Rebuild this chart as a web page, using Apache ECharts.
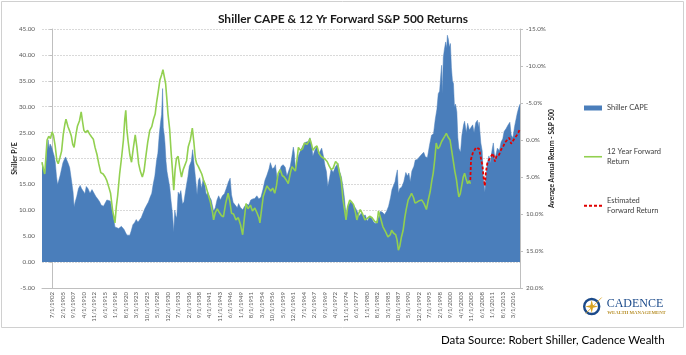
<!DOCTYPE html>
<html><head><meta charset="utf-8">
<script src="https://cdn.jsdelivr.net/npm/echarts/dist/echarts.min.js"></script>
<style>html,body{margin:0;padding:0;background:#fff}#c{width:686px;height:355px}</style>
</head><body><div id="c"></div>
<script>
const xTickLabels = ['7/1/1902','2/1/1905','9/1/1907','4/1/1910','11/1/1912','6/1/1915','1/1/1918','8/1/1920','3/1/1923','10/1/1925','5/1/1928','12/1/1930','7/1/1933','2/1/1936','9/1/1938','4/1/1941','11/1/1943','6/1/1946','1/1/1949','8/1/1951','3/1/1954','10/1/1956','5/1/1959','12/1/1961','7/1/1964','2/1/1967','9/1/1969','4/1/1972','11/1/1974','6/1/1977','1/1/1980','8/1/1982','3/1/1985','10/1/1987','5/1/1990','12/1/1992','7/1/1995','2/1/1998','9/1/2000','4/1/2003','11/1/2005','6/1/2008','1/1/2011','8/1/2013','3/1/2016'];

const capeData = [
['1899-12',19.0],['1900-03',18.4],['1900-06',17.8],['1900-09',17.0],['1900-12',19.5],['1901-03',21.8],['1901-06',23.6],['1901-09',22.0],['1901-12',22.8],['1902-04',22.3],['1902-08',22.6],['1902-12',20.5],
['1903-03',19.4],['1903-07',16.5],['1903-10',15.0],['1904-01',15.6],['1904-06',16.8],['1904-10',18.0],['1905-02',19.2],['1905-06',19.8],['1905-10',20.3],['1906-02',19.6],['1906-06',19.0],['1906-10',18.2],
['1907-03',15.9],['1907-08',13.5],['1907-11',10.7],['1908-03',11.8],['1908-07',12.7],['1908-12',14.2],['1909-05',14.8],['1909-09',14.2],['1910-01',14.0],['1910-07',13.2],['1910-11',14.6],['1911-04',14.2],
['1911-10',13.3],['1912-04',14.0],['1912-09',14.3],['1913-03',12.7],['1913-09',12.2],['1914-03',11.6],['1914-07',11.0],['1915-02',10.8],['1915-07',11.1],['1915-12',12.0],['1916-04',12.2],['1916-10',11.8],
['1917-03',10.1],['1917-08',8.5],['1917-12',6.8],['1918-05',7.0],['1918-11',6.5],['1919-03',6.2],['1919-07',6.9],['1919-11',6.6],['1920-03',6.3],['1920-08',5.6],['1920-12',5.2],['1921-05',5.4],
['1921-08',5.2],['1921-12',6.0],['1922-05',7.2],['1922-10',7.6],['1923-03',8.2],['1923-08',7.7],['1923-12',8.0],['1924-06',8.6],['1924-12',9.6],['1925-05',10.4],['1925-10',11.0],['1926-03',11.6],
['1926-08',12.5],['1927-01',13.3],['1927-05',15.0],['1927-10',16.6],['1928-03',19.5],['1928-07',21.0],['1928-11',24.5],['1929-03',27.0],['1929-06',28.5],['1929-09',33.5],['1929-11',26.0],['1930-02',24.5],
['1930-04',23.0],['1930-07',19.5],['1930-10',17.5],['1931-02',16.0],['1931-06',14.5],['1931-10',11.8],['1932-02',9.5],['1932-06',5.8],['1932-09',10.0],['1932-12',9.0],['1933-03',8.5],['1933-07',13.5],
['1933-11',13.0],['1934-03',13.8],['1934-08',11.2],['1934-12',11.6],['1935-04',11.8],['1935-08',15.0],['1935-12',16.5],['1936-04',18.5],['1936-10',19.5],['1937-02',21.7],['1937-06',19.0],['1937-10',16.5],
['1938-03',13.0],['1938-07',15.8],['1938-11',16.3],['1939-04',14.2],['1939-09',16.0],['1940-01',15.4],['1940-06',13.0],['1940-11',13.5],['1941-04',12.6],['1941-09',12.0],['1942-04',9.8],['1942-09',10.5],
['1943-02',12.0],['1943-07',12.8],['1943-12',12.0],['1944-06',12.8],['1944-12',13.2],['1945-06',14.3],['1945-12',15.5],['1946-05',16.2],['1946-09',13.0],['1947-02',11.5],['1947-08',11.0],['1948-02',10.5],
['1948-06',11.3],['1948-11',10.6],['1949-06',10.1],['1949-12',10.8],['1950-06',11.2],['1950-12',11.0],['1951-06',12.0],['1951-12',12.2],['1952-06',12.3],['1952-12',12.8],['1953-06',12.2],['1953-12',12.5],
['1954-06',14.0],['1954-12',15.8],['1955-06',16.8],['1955-12',18.0],['1956-04',19.2],['1956-10',18.0],['1957-04',18.3],['1957-07',18.8],['1957-12',16.0],['1958-06',17.2],['1958-12',18.5],['1959-06',18.8],
['1959-12',18.3],['1960-05',16.6],['1960-10',16.8],['1961-03',18.5],['1961-08',20.5],['1961-12',22.2],['1962-03',21.0],['1962-06',18.0],['1962-10',19.0],['1963-03',20.5],['1963-09',21.5],['1964-03',22.3],
['1964-09',23.0],['1965-03',23.2],['1965-09',23.3],['1966-01',24.0],['1966-06',22.5],['1966-10',20.5],['1967-03',21.5],['1967-09',22.3],['1968-03',20.8],['1968-08',21.5],['1968-12',22.0],['1969-05',20.5],
['1969-10',18.5],['1970-02',17.5],['1970-06',14.6],['1970-11',16.2],['1971-04',18.0],['1971-10',17.3],['1972-04',18.3],['1972-12',19.1],['1973-05',17.5],['1973-10',16.5],['1974-03',14.5],['1974-07',12.5],
['1974-12',9.0],['1975-04',10.5],['1975-08',11.0],['1976-01',11.6],['1976-07',11.4],['1976-12',11.2],['1977-06',10.2],['1977-12',9.4],['1978-04',8.9],['1978-09',9.5],['1979-03',8.9],['1979-09',9.1],
['1980-03',7.9],['1980-09',8.7],['1981-03',8.6],['1981-09',7.8],['1982-03',7.4],['1982-07',7.3],['1982-12',8.6],['1983-06',9.8],['1983-12',9.6],['1984-06',9.2],['1984-12',9.8],['1985-06',10.8],
['1985-12',12.5],['1986-04',14.0],['1986-09',14.3],['1987-01',15.5],['1987-04',16.6],['1987-08',17.8],['1987-11',13.3],['1988-03',14.2],['1988-09',14.5],['1989-03',15.5],['1989-09',17.3],['1990-02',16.6],
['1990-06',17.2],['1990-10',15.5],['1991-03',17.6],['1991-09',18.5],['1992-01',19.7],['1992-07',19.8],['1993-01',20.3],['1993-08',20.8],['1994-02',21.2],['1994-07',20.3],['1995-01',20.2],['1995-07',22.5],
['1996-01',24.5],['1996-07',24.8],['1996-12',27.5],['1997-05',29.5],['1997-09',32.5],['1998-01',33.0],['1998-05',36.5],['1998-07',38.0],['1998-09',32.5],['1998-12',39.5],['1999-03',41.0],['1999-07',42.5],
['1999-10',41.3],['1999-12',43.8],['2000-03',43.0],['2000-06',41.5],['2000-09',42.2],['2000-12',37.5],['2001-03',35.0],['2001-06',34.5],['2001-09',30.0],['2001-12',30.5],['2002-04',29.0],['2002-07',24.0],
['2002-10',22.0],['2003-03',21.2],['2003-07',24.5],['2003-12',26.5],['2004-03',27.2],['2004-08',25.0],['2004-12',26.8],['2005-05',25.5],['2005-10',25.8],['2006-03',26.5],['2006-07',25.0],['2006-12',26.9],
['2007-05',27.4],['2007-08',26.0],['2007-10',27.0],['2008-03',23.0],['2008-07',21.5],['2008-10',16.5],['2009-03',13.5],['2009-06',16.2],['2009-10',19.0],['2010-03',20.5],['2010-07',19.2],['2010-12',21.5],
['2011-04',23.0],['2011-09',19.5],['2011-12',20.8],['2012-04',22.0],['2012-10',21.5],['2013-03',23.2],['2013-08',23.8],['2013-12',25.2],['2014-06',25.8],['2014-12',26.5],['2015-05',27.0],['2015-09',24.5],
['2016-02',24.0],['2016-07',26.2],['2016-11',26.5],['2017-03',28.8],['2017-08',30.0],['2017-11',30.5]
];

const fwdReturnData = [
['1899-12',3.0],['1900-04',3.9],['1900-08',4.6],['1900-12',2.0],['1901-03',0.0],['1901-08',-0.5],['1902-01',-0.2],['1902-06',-1.1],['1902-10',-0.6],['1903-03',0.8],['1903-08',2.8],['1903-12',3.2],
['1904-05',2.4],['1904-10',1.5],['1905-03',-0.8],['1905-08',-2.2],['1905-11',-2.8],['1906-05',-1.8],['1906-10',-1.2],['1907-03',-0.5],['1907-07',0.6],['1907-11',1.0],['1908-04',-0.6],['1908-09',-1.9],
['1909-03',-2.6],['1909-08',-3.8],['1909-12',-2.5],['1910-04',-1.3],['1910-09',-1.0],['1911-03',-1.3],['1911-09',-0.8],['1912-03',-0.4],['1912-08',-0.1],['1913-01',1.0],['1913-07',2.0],['1913-12',3.2],
['1914-06',4.4],['1915-01',4.6],['1915-07',5.0],['1915-12',5.5],['1916-06',6.4],['1916-11',7.2],['1917-05',9.5],['1917-09',10.5],['1917-12',11.2],['1918-04',9.0],['1918-08',7.5],['1919-02',4.5],
['1919-08',2.2],['1920-01',0.0],['1920-05',-2.8],['1920-08',-4.0],['1920-11',-1.5],['1921-03',0.2],['1921-08',2.0],['1922-01',3.0],['1922-06',1.2],['1922-12',-0.7],['1923-05',1.0],['1923-10',3.2],
['1924-03',4.2],['1924-09',5.0],['1925-02',4.2],['1925-08',2.0],['1926-01',0.3],['1926-07',-1.3],['1927-01',-1.8],['1927-06',-2.8],['1927-11',-3.5],['1928-03',-5.0],['1928-08',-6.5],['1929-01',-8.1],
['1929-06',-8.8],['1929-10',-9.5],['1930-03',-9.7],['1930-06',-7.6],['1930-09',-5.9],['1931-01',-3.5],['1931-06',-1.4],['1931-10',1.5],['1932-02',4.0],['1932-06',6.8],['1932-10',4.0],['1933-02',2.5],
['1933-07',2.2],['1933-12',3.8],['1934-05',5.0],['1934-10',4.0],['1935-03',4.1],['1935-08',2.8],['1936-01',0.9],['1936-07',0.0],['1937-01',-1.6],['1937-06',0.5],['1937-10',2.5],['1938-02',3.2],
['1938-07',3.6],['1938-12',4.1],['1939-05',4.6],['1939-10',5.4],['1940-05',6.2],['1940-11',7.2],['1941-06',8.3],['1942-01',9.8],['1942-04',10.8],['1942-09',9.8],['1943-03',9.3],['1943-09',9.8],
['1944-03',10.2],['1944-09',10.4],['1945-04',8.5],['1945-11',7.2],['1946-04',8.3],['1946-09',9.9],['1947-03',10.0],['1947-10',10.8],['1948-05',10.5],['1948-12',11.5],['1949-06',12.8],['1949-10',11.0],
['1950-04',8.6],['1950-10',9.3],['1951-05',8.8],['1951-11',9.6],['1952-06',9.2],['1952-12',9.8],['1953-06',10.5],['1953-09',11.2],['1954-02',9.4],['1954-07',7.6],['1955-01',6.8],['1955-06',6.2],
['1955-12',6.6],['1956-05',6.9],['1956-11',6.5],['1957-05',7.2],['1957-10',6.2],['1958-03',4.5],['1958-09',4.0],['1959-03',4.8],['1959-09',5.0],['1960-03',5.4],['1960-09',5.9],['1961-03',4.5],
['1961-08',3.6],['1962-01',3.4],['1962-06',4.2],['1962-11',2.6],['1963-03',1.0],['1963-09',1.4],['1964-03',1.2],['1964-09',0.4],['1965-04',0.6],['1965-10',0.2],['1966-01',-0.2],['1966-06',0.6],
['1966-10',1.4],['1967-04',1.0],['1967-10',0.8],['1968-04',1.8],['1968-10',2.2],['1969-04',2.4],['1969-10',2.6],['1970-04',2.9],['1970-10',3.5],['1971-04',4.0],['1971-10',3.8],['1972-05',2.9],
['1972-11',3.2],['1973-05',4.5],['1973-10',5.5],['1974-03',8.1],['1974-08',9.5],['1974-12',10.8],['1975-05',9.0],['1975-11',8.1],['1976-05',8.4],['1976-10',8.7],['1977-04',9.8],['1977-08',10.8],
['1978-01',10.0],['1978-06',9.4],['1979-01',10.0],['1979-08',10.8],['1980-03',10.6],['1980-10',10.3],['1981-05',10.5],['1982-01',11.0],['1982-08',11.2],['1982-12',9.6],['1983-06',10.5],['1984-01',11.7],
['1984-08',12.3],['1985-04',13.1],['1985-11',12.8],['1986-03',12.2],['1986-09',12.6],['1987-03',12.8],['1987-07',13.5],['1987-11',14.9],['1988-03',14.4],['1988-08',13.1],['1989-01',12.2],['1989-06',10.5],
['1989-10',9.4],['1990-04',8.1],['1990-10',7.6],['1991-02',7.2],['1991-08',7.8],['1991-12',8.5],['1992-06',8.4],['1993-01',8.2],['1993-08',8.1],['1994-03',8.6],['1994-10',9.4],['1995-04',8.0],
['1995-09',7.0],['1996-02',5.5],['1996-06',4.5],['1996-11',2.5],['1997-03',0.4],['1997-08',1.2],['1998-01',0.9],['1998-07',0.2],['1998-11',0.0],['1999-04',-0.5],['1999-09',-0.9],['2000-02',-0.4],
['2000-08',0.0],['2001-01',1.5],['2001-05',2.7],['2001-10',4.2],['2002-03',5.4],['2002-07',6.8],['2002-10',7.7],['2003-02',7.3],['2003-06',6.3],['2003-11',5.0],['2004-03',4.5],['2004-07',5.2],
['2004-12',5.9],['2005-05',5.5],['2005-08',5.9]
];

const estReturnData = [
['2005-08',5.4],['2005-10',2.6],['2006-03',1.8],['2006-08',1.4],['2007-01',1.0],['2007-06',0.9],['2007-10',1.2],['2008-03',2.4],['2008-08',3.5],['2008-11',5.0],['2009-03',6.2],['2009-06',4.4],
['2009-10',3.2],['2010-04',2.6],['2010-09',2.8],['2011-03',1.8],['2011-09',2.9],['2012-02',2.1],['2012-09',2.0],['2013-03',1.3],['2013-09',0.9],['2014-03',0.3],['2014-09',0.0],['2015-03',-0.3],
['2015-09',0.5],['2016-02',0.6],['2016-08',-0.3],['2017-01',-0.6],['2017-06',-1.0],['2017-11',-1.5]
];

// month index relative to 7/1902 (first labelled category)
function monthIndex(s) { const p = s.split('-').map(Number); return (p[0] - 1902) * 12 + (p[1] - 7); }
const toXY = arr => arr.map(d => [monthIndex(d[0]), d[1]]);

const FONT = 'Lato';
const BLUE = '#4a7ebb', GREEN = '#92d050', RED = '#e00000';
const xLblStyle = { fontFamily: FONT, fontSize: 6, color: '#595959' };
const yLblStyle = { fontFamily: FONT, fontSize: 6.3, color: '#595959' };
const legendText = { fontFamily: FONT, fontSize: 7.5, color: '#404040' };
const legendNames = { '12 Year Forward Return': '12 Year Forward\nReturn', 'Estimated Forward Return': 'Estimated\nForward Return' };
const twoLine = Object.assign({ lineHeight: 10.5, padding: [10.5, 0, 0, 0] }, legendText);

const chart = echarts.init(document.getElementById('c'), null, { renderer: 'canvas' });
chart.setOption({
  animation: false,
  backgroundColor: '#ffffff',
  title: { text: 'Shiller CAPE & 12 Yr Forward S&P 500 Returns', left: 'center', top: 8,
    textStyle: { fontFamily: FONT, fontSize: 12, fontWeight: 'bold', color: '#1a1a1a' } },
  grid: { left: 42, right: 166, top: 29, bottom: 67, containLabel: false, outerBoundsMode: 'none' },
  legend: [
    { data: ['Shiller CAPE'], left: 584, top: 104, padding: 0, icon: 'rect', itemWidth: 18, itemHeight: 5, textStyle: legendText },
    { data: ['12 Year Forward Return'], left: 584, top: 141, padding: 0, icon: 'rect', itemWidth: 18, itemHeight: 1.6,
      formatter: n => legendNames[n], textStyle: twoLine },
    { data: ['Estimated Forward Return'], left: 584, top: 190, padding: 0, itemWidth: 18, itemHeight: 2,
      icon: 'path://M0,0h3v2h-3z M5,0h3v2h-3z M10,0h3v2h-3z M15,0h3v2h-3z',
      formatter: n => legendNames[n], textStyle: twoLine }
  ],
  xAxis: {
    type: 'value', min: -31, max: 1384, interval: 31,
    axisLine: { onZero: false, lineStyle: { color: '#bfbfbf' } },
    axisTick: { show: false },
    splitLine: { show: false },
    axisLabel: Object.assign({ rotate: 90, margin: 4, showMinLabel: true, showMaxLabel: true,
      formatter: v => (v >= 0 && v % 31 === 0 && xTickLabels[v / 31]) ? xTickLabels[v / 31] : '' }, xLblStyle)
  },
  yAxis: [
    { type: 'value', min: -5, max: 45, interval: 5, position: 'left',
      name: 'Shiller P/E', nameLocation: 'middle', nameGap: 24, nameRotate: 90, nameMoveOverlap: false,
      nameTextStyle: { fontFamily: FONT, fontSize: 7, fontWeight: 'bold', color: '#1a1a1a' },
      axisLine: { show: true, lineStyle: { color: '#bfbfbf' } },
      axisTick: { show: true, length: 3, lineStyle: { color: '#bfbfbf' } },
      splitLine: { show: true, lineStyle: { color: '#d9d9d9', type: [2, 1] } },
      axisLabel: Object.assign({ margin: 7, formatter: v => v.toFixed(2) }, yLblStyle) },
    { type: 'value', min: -15, max: 20, interval: 5, position: 'right', inverse: true,
      name: 'Average Annual Return - S&P 500', nameLocation: 'middle', nameGap: 28, nameRotate: 90, nameMoveOverlap: false,
      nameTextStyle: { fontFamily: FONT, fontSize: 6.6, fontWeight: 'bold', color: '#1a1a1a' },
      axisLine: { show: true, lineStyle: { color: '#bfbfbf' } },
      axisTick: { show: true, length: 3, lineStyle: { color: '#bfbfbf' } },
      splitLine: { show: false },
      axisLabel: Object.assign({ margin: 6, formatter: v => v.toFixed(1) + '%' }, yLblStyle) }
  ],
  series: [
    { name: 'Shiller CAPE', type: 'line', yAxisIndex: 0, data: toXY(capeData), symbol: 'none', z: 1,
      lineStyle: { width: 0.5, color: BLUE }, itemStyle: { color: BLUE }, areaStyle: { color: BLUE, opacity: 1 } },
    { name: '12 Year Forward Return', type: 'line', yAxisIndex: 1, data: toXY(fwdReturnData), symbol: 'none', z: 3,
      lineStyle: { width: 1.6, color: GREEN }, itemStyle: { color: GREEN } },
    { name: 'Estimated Forward Return', type: 'line', yAxisIndex: 1, data: toXY(estReturnData), symbol: 'none', z: 4,
      lineStyle: { width: 1.8, color: RED, type: [3, 2] }, itemStyle: { color: RED } }
  ],
  graphic: [
    { type: 'rect', silent: true, z: -1, shape: { x: 1.5, y: 1.5, width: 682, height: 326 }, style: { fill: 'none', stroke: '#d0d0d0', lineWidth: 1 } },
    { type: 'text', left: 441, top: 334, style: { text: 'Data Source: Robert Shiller, Cadence Wealth', fontFamily: FONT, fontSize: 11.5, fill: '#000' } },
    { type: 'group', left: 583, top: 295, children: [
      { type: 'circle', shape: { cx: 9, cy: 10, r: 7.5 }, style: { fill: '#fff', stroke: '#1b4a8a', lineWidth: 2.4 } },
      { type: 'polygon', shape: { points: [[9,3.5],[10.3,8.7],[15.5,10],[10.3,11.3],[9,16.5],[7.7,11.3],[2.5,10],[7.7,8.7]] }, style: { fill: '#d8a322' } },
      { type: 'line', shape: { x1: 3, y1: 17, x2: 19, y2: 1 }, style: { stroke: '#d8a322', lineWidth: 0.8 } },
      { type: 'text', x: 24, y: 1.5, style: { text: 'CADENCE', fontFamily: 'Liberation Serif', fontSize: 12, fill: '#1b4a8a' } },
      { type: 'text', x: 24.5, y: 14, style: { text: 'WEALTH MANAGEMENT', fontFamily: 'Liberation Serif', fontSize: 4.8, fontWeight: 'bold', fill: '#b8902a' } }
    ] }
  ]
});
</script>
</body></html>
